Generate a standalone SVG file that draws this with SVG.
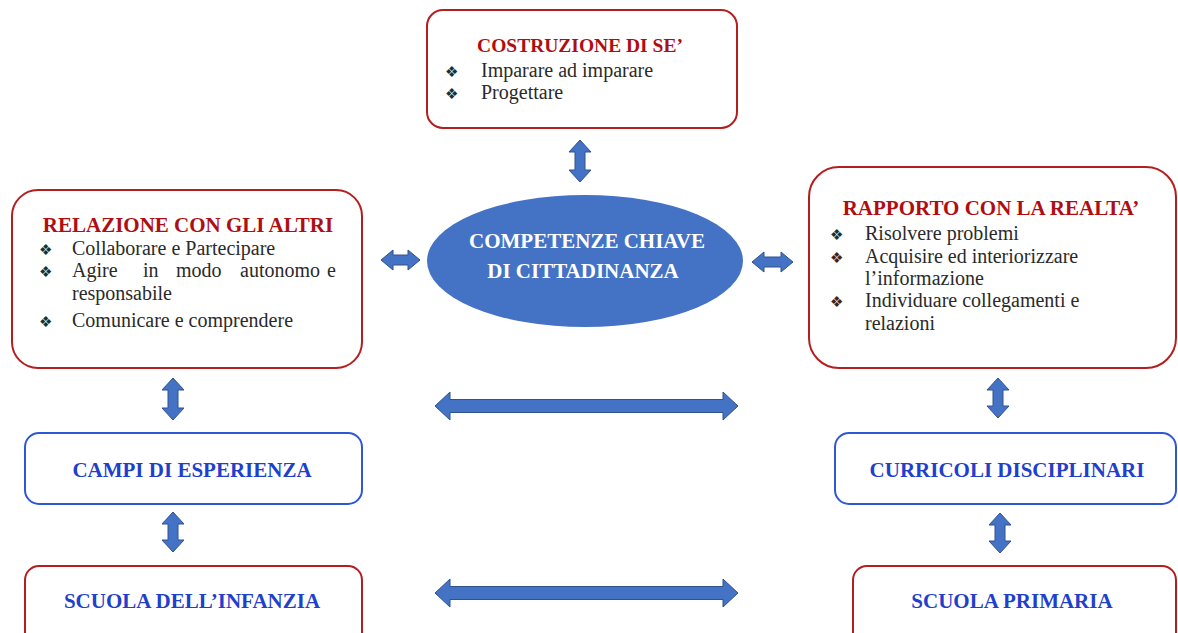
<svg xmlns="http://www.w3.org/2000/svg" width="1178" height="633" viewBox="0 0 1178 633">
<style>
.redbox{fill:#fff;stroke:#b41e1e;stroke-width:2}
.bluebox{fill:#fff;stroke:#2e57d6;stroke-width:2}
.title{font-family:"Liberation Serif",serif;font-weight:bold;font-size:21px;fill:#b00d12}
.body{font-family:"Liberation Serif",serif;font-size:20px;fill:#2a2a2a}
.bl{font-family:"DejaVu Sans",sans-serif;font-size:15px;fill:#2a2a2a;font-variant-emoji:text}
.blue{font-family:"Liberation Serif",serif;font-weight:bold;font-size:21px;fill:#1f3fcc}
.white{font-family:"Liberation Serif",serif;font-weight:bold;font-size:21px;fill:#fff}
.arr{fill:#4472c4;stroke:#2f528f;stroke-width:1}
</style>
<rect width="1178" height="633" fill="#fff"/>
<g id="costruzione">
<rect class="redbox" x="427" y="10" width="310" height="118" rx="16"/>
<text class="title" x="580" y="52" text-anchor="middle" style="font-size:19.5px">COSTRUZIONE DI SE’</text>
<text class="bl" x="445" y="77">❖</text><text class="body" x="481" y="77">Imparare ad imparare</text>
<text class="bl" x="445" y="99">❖</text><text class="body" x="481" y="99">Progettare</text>
</g>
<g id="relazione">
<rect class="redbox" x="12" y="190" width="350" height="178" rx="26"/>
<text class="title" x="188" y="232" text-anchor="middle">RELAZIONE CON GLI ALTRI</text>
<text class="bl" x="39" y="255">❖</text><text class="body" x="72" y="255">Collaborare e Partecipare</text>
<text class="bl" x="39" y="277">❖</text><text class="body" y="277"><tspan x="72">Agire</tspan><tspan x="143">in</tspan><tspan x="176">modo</tspan><tspan x="240">autonomo</tspan><tspan x="327">e</tspan></text>
<text class="body" x="72" y="300">responsabile</text>
<text class="bl" x="39" y="327">❖</text><text class="body" x="72" y="327">Comunicare e comprendere</text>
</g>
<g id="competenze">
<ellipse cx="585" cy="261" rx="158" ry="66" fill="#4472c4"/>
<text class="white" x="587" y="248" text-anchor="middle">COMPETENZE CHIAVE</text>
<text class="white" x="583" y="278" text-anchor="middle">DI CITTADINANZA</text>
</g>
<g id="rapporto">
<rect class="redbox" x="809" y="167" width="367" height="201" rx="30"/>
<text class="title" x="991" y="215" text-anchor="middle">RAPPORTO CON LA REALTA’</text>
<text class="bl" x="830" y="240">❖</text><text class="body" x="865" y="240">Risolvere problemi</text>
<text class="bl" x="830" y="263">❖</text><text class="body" x="865" y="263">Acquisire ed interiorizzare</text>
<text class="body" x="865" y="285">l’informazione</text>
<text class="bl" x="830" y="307">❖</text><text class="body" x="865" y="307">Individuare collegamenti e</text>
<text class="body" x="865" y="330">relazioni</text>
</g>
<g id="campi">
<rect class="bluebox" x="25" y="433" width="337" height="71" rx="14"/>
<text class="blue" x="192" y="477" text-anchor="middle">CAMPI DI ESPERIENZA</text>
</g>
<g id="infanzia">
<rect class="redbox" x="25" y="566" width="337" height="80" rx="14"/>
<text class="blue" x="192" y="608" text-anchor="middle">SCUOLA DELL’INFANZIA</text>
</g>
<g id="curricoli">
<rect class="bluebox" x="835" y="433" width="341" height="71" rx="14"/>
<text class="blue" x="1007" y="477" text-anchor="middle">CURRICOLI DISCIPLINARI</text>
</g>
<g id="primaria">
<rect class="redbox" x="853" y="566" width="323" height="80" rx="14"/>
<text class="blue" x="1012" y="608" text-anchor="middle">SCUOLA PRIMARIA</text>
</g>
<g id="connectors">
<path class="arr" d="M580,140 L591,152 L585,152 L585,170 L591,170 L580,182 L569,170 L575,170 L575,152 L569,152 Z"/>
<path class="arr" d="M381,260 L393,250 L393,255 L408,255 L408,250 L420,260 L408,270 L408,265 L393,265 L393,270 Z"/>
<path class="arr" d="M752,262 L764,252 L764,257 L781,257 L781,252 L793,262 L781,272 L781,267 L764,267 L764,272 Z"/>
<path class="arr" d="M173,378 L184,390 L178,390 L178,408 L184,408 L173,420 L162,408 L168,408 L168,390 L162,390 Z"/>
<path class="arr" d="M173,512 L184,524 L178,524 L178,540 L184,540 L173,552 L162,540 L168,540 L168,524 L162,524 Z"/>
<path class="arr" d="M998,378 L1009,390 L1003,390 L1003,406 L1009,406 L998,418 L987,406 L993,406 L993,390 L987,390 Z"/>
<path class="arr" d="M1000,513 L1011,525 L1005,525 L1005,541 L1011,541 L1000,553 L989,541 L995,541 L995,525 L989,525 Z"/>
<path class="arr" d="M435,406 L450,392 L450,399.5 L723,399.5 L723,392 L738,406 L723,420 L723,412.5 L450,412.5 L450,420 Z"/>
<path class="arr" d="M435,593 L450,579 L450,586.5 L723,586.5 L723,579 L738,593 L723,607 L723,599.5 L450,599.5 L450,607 Z"/>
</g>
</svg>
